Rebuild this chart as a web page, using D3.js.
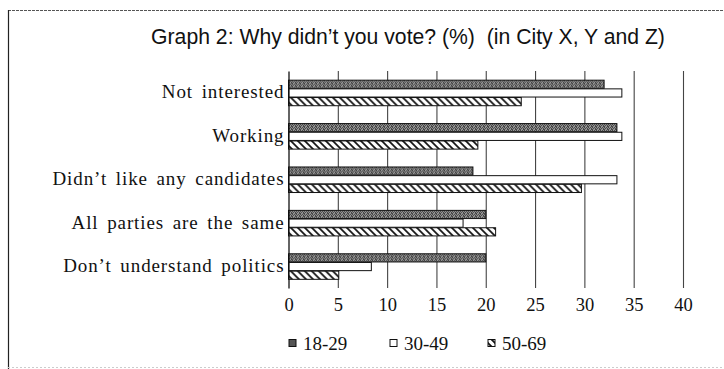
<!DOCTYPE html>
<html>
<head>
<meta charset="utf-8">
<script src="https://cdn.jsdelivr.net/npm/d3@7"></script>
<style>
  html, body { margin: 0; padding: 0; background: #fff; }
  svg { display: block; }
</style>
</head>
<body>
<svg id="chart" width="724" height="369"></svg>
<script>
const categories = ["Not interested", "Working", "Didn\u2019t like any candidates", "All parties are the same", "Don\u2019t understand politics"];
const seriesNames = ["18-29", "30-49", "50-69"];
const values18_29 = [32, 33.3, 18.7, 20, 20];
const values30_49 = [33.8, 33.8, 33.3, 17.7, 8.4];
const values50_69 = [23.6, 19.2, 29.7, 21, 5.1];
const tickValues = [0, 5, 10, 15, 20, 25, 30, 35, 40];
const titleText = "Graph 2: Why didn\u2019t you vote? (%)\u00a0\u00a0(in City X, Y and Z)";

const seriesValues = [values18_29, values30_49, values50_69];
const data = categories.map((c, i) => ({
  category: c,
  values: seriesNames.map((s, j) => ({ series: s, value: seriesValues[j][i] }))
}));

const svg = d3.select("#chart");
const defs = svg.append("defs");

// stipple pattern for 18-29
const pDark = defs.append("pattern").attr("id", "pDark").attr("patternUnits", "userSpaceOnUse")
  .attr("width", 4).attr("height", 3);
pDark.append("rect").attr("width", 4).attr("height", 3).attr("fill", "#969696");
[[0,0],[2,1],[1,2],[3,0],[0,1],[3,2]].forEach(([x, y]) =>
  pDark.append("rect").attr("x", x).attr("y", y).attr("width", 1).attr("height", 1).attr("fill", "#444"));

// hatch pattern for 50-69
const pHatch = defs.append("pattern").attr("id", "pHatch").attr("patternUnits", "userSpaceOnUse")
  .attr("width", 7).attr("height", 7);
pHatch.append("rect").attr("width", 7).attr("height", 7).attr("fill", "#fff");
pHatch.append("path").attr("d", "M-1,-1 L8,8 M-8,-1 L1,8 M6,-1 L15,8")
  .attr("stroke", "#111").attr("stroke-width", 1.7);

const fills = { "18-29": "url(#pDark)", "30-49": "#fff", "50-69": "url(#pHatch)" };

// frame
svg.append("line").attr("x1", 8).attr("x2", 724).attr("y1", 10.5).attr("y2", 10.5)
  .attr("stroke", "#555").attr("stroke-width", 1.2).attr("stroke-dasharray", "3,1");
svg.append("line").attr("x1", 8.5).attr("x2", 8.5).attr("y1", 10).attr("y2", 369)
  .attr("stroke", "#222").attr("stroke-width", 1.2);
svg.append("line").attr("x1", 8).attr("x2", 724).attr("y1", 367.5).attr("y2", 367.5)
  .attr("stroke", "#ccc").attr("stroke-width", 1).attr("stroke-dasharray", "2,2");

// title
svg.append("text").attr("x", 408).attr("y", 44).attr("text-anchor", "middle")
  .attr("font-family", "Liberation Sans, Arial, sans-serif").attr("font-size", 21.2)
  .attr("fill", "#111").text(titleText);

const plotTop = 71, plotBottom = 288;
const x = d3.scaleLinear().domain([0, 40]).range([288.5, 683]);
const y0 = d3.scaleBand().domain(categories).range([plotTop, plotBottom]).paddingInner(0.4).paddingOuter(0.2);
const y1 = d3.scaleBand().domain(seriesNames).range([0, y0.bandwidth()]);

// gridlines via axis
const grid = svg.append("g").attr("transform", `translate(0,${plotBottom})`)
  .call(d3.axisBottom(x).tickValues(tickValues.filter(t => t > 0)).tickSize(-(plotBottom - plotTop)).tickFormat(""));
grid.select(".domain").remove();
grid.selectAll(".tick line").attr("stroke", "#444").attr("stroke-width", 1.1);

// bottom tick labels
const xAxis = svg.append("g").attr("transform", `translate(0,${plotBottom})`)
  .call(d3.axisBottom(x).tickValues(tickValues).tickSize(0).tickPadding(10).tickFormat(d3.format("d")));
xAxis.select(".domain").remove();
xAxis.selectAll("text").attr("font-family", "Liberation Serif, Times New Roman, serif")
  .attr("font-size", 18.5).attr("fill", "#111");

// bars
const groups = svg.append("g").selectAll("g").data(data).join("g")
  .attr("transform", d => `translate(0,${y0(d.category)})`);
groups.selectAll("rect").data(d => d.values).join("rect")
  .attr("x", x(0))
  .attr("y", d => y1(d.series) + 0.5)
  .attr("width", d => x(d.value) - x(0))
  .attr("height", y1.bandwidth() - 0.5)
  .attr("fill", d => fills[d.series])
  .attr("stroke", "#111").attr("stroke-width", 1);

// left axis
const yAxis = svg.append("g").attr("transform", `translate(${x(0)},0)`)
  .call(d3.axisLeft(y0).tickSize(0).tickPadding(4));
yAxis.select(".domain").attr("stroke", "#111").attr("stroke-width", 1.3);
yAxis.selectAll("text").attr("font-family", "Liberation Serif, Times New Roman, serif")
  .attr("font-size", 19).attr("fill", "#111").attr("dy", "0.3em")
  .style("letter-spacing", "0.9px").style("word-spacing", "3px");

// legend
const legendX = [289, 390, 488];
const legend = svg.append("g");
seriesNames.forEach((s, i) => {
  const g = legend.append("g").attr("transform", `translate(${legendX[i]},343)`);
  g.append("rect").attr("x", 0).attr("y", -3.5).attr("width", 7).attr("height", 7)
    .attr("fill", i === 0 ? "#555" : fills[s]).attr("stroke", "#111").attr("stroke-width", 1);
  g.append("text").attr("x", 14).attr("y", 6.5)
    .attr("font-family", "Liberation Serif, Times New Roman, serif").attr("font-size", 19)
    .attr("fill", "#111").text(s);
});
</script>
</body>
</html>
